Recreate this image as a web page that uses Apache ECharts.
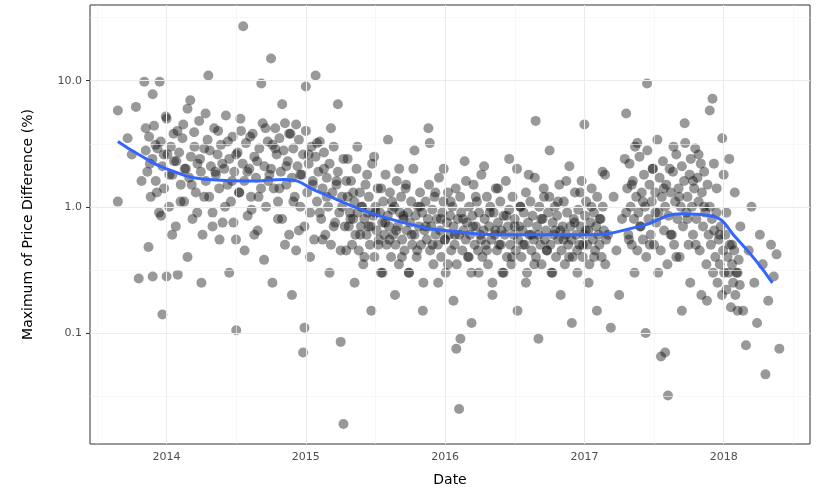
<!DOCTYPE html>
<html><head><meta charset="utf-8">
<script src="https://cdn.jsdelivr.net/npm/echarts@6/dist/echarts.min.js"></script>
<style>html,body{margin:0;padding:0;background:#fff}#c{width:828px;height:492px}</style>
</head><body><div id="c"></div>
<script>
const xTicks=[2014,2015,2016,2017,2018];
const yTicks=[0.1,1,10];
const points=[
[2013.65,5.8],[2013.65,1.1],[2013.72,3.5],[2013.75,2.6],[2013.78,6.2],[2013.8,0.27],[2013.82,1.6],[2013.84,9.8],[2013.85,4.2],[2013.87,0.48],[2013.88,2.2],[2013.9,0.28],[2013.9,7.8],[2013.92,3.1],[2013.93,1.3],[2013.95,9.8],[2013.96,0.85],[2013.97,0.14],[2013.98,2.6],[2014.0,0.28],[2014.0,5.0],[2014.02,1.8],[2014.04,0.6],[2014.05,3.8],[2014.07,2.3],[2014.08,0.29],[2014.1,1.1],[2014.12,4.5],[2014.13,2.0],[2014.15,0.4],[2014.17,7.0],[2014.18,1.5],[2014.2,3.0],[2014.22,0.9],[2014.24,2.4],[2014.25,0.25],[2014.27,1.2],[2014.28,5.5],[2014.3,11],[2014.31,2.8],[2014.33,0.7],[2014.35,1.9],[2014.37,4.0],[2014.38,0.55],[2014.4,2.2],[2014.42,1.0],[2014.44,3.3],[2014.45,0.3],[2014.47,1.6],[2014.48,0.75],[2014.5,0.105],[2014.5,2.6],[2014.52,1.3],[2014.53,5.0],[2014.55,27],[2014.56,0.45],[2014.58,1.9],[2014.6,3.6],[2014.61,0.95],[2014.63,0.6],[2014.65,2.3],[2014.66,1.2],[2014.68,9.5],[2014.7,0.38],[2014.71,4.2],[2014.73,1.6],[2014.75,15],[2014.76,0.25],[2014.78,2.9],[2014.8,0.8],[2014.81,1.4],[2014.83,6.5],[2014.85,0.5],[2014.86,2.1],[2014.88,3.8],[2014.9,0.2],[2014.91,1.1],[2014.93,4.5],[2014.95,0.65],[2014.96,1.8],[2014.98,0.07],[2014.99,0.11],[2015.0,9.0],[2015.02,2.6],[2015.03,0.4],[2015.05,1.5],[2015.07,11],[2015.08,3.2],[2015.1,0.9],[2015.12,0.55],[2015.13,2.0],[2015.15,1.2],[2015.17,0.3],[2015.18,4.2],[2015.2,0.7],[2015.22,1.6],[2015.23,6.5],[2015.25,0.085],[2015.26,1.0],[2015.27,0.019],[2015.29,0.45],[2015.3,2.4],[2015.32,0.8],[2015.34,1.3],[2015.35,0.25],[2015.37,3.0],[2015.39,0.6],[2015.4,1.0],[2015.42,0.4],[2015.44,1.8],[2015.45,0.7],[2015.47,0.15],[2015.49,2.5],[2015.5,0.9],[2015.52,0.5],[2015.54,1.4],[2015.55,0.3],[2015.57,0.75],[2015.59,3.4],[2015.6,0.55],[2015.62,1.1],[2015.64,0.2],[2015.65,0.65],[2015.67,2.0],[2015.69,0.4],[2015.7,0.85],[2015.72,1.5],[2015.74,0.3],[2015.76,0.6],[2015.78,2.8],[2015.8,0.45],[2015.82,1.0],[2015.84,0.15],[2015.86,0.7],[2015.88,4.2],[2015.89,3.2],[2015.91,0.5],[2015.93,1.3],[2015.95,0.25],[2015.97,0.8],[2015.99,2.0],[2016.0,0.55],[2016.02,0.35],[2016.04,1.1],[2016.06,0.18],[2016.07,0.6],[2016.08,0.075],[2016.1,0.025],[2016.11,0.09],[2016.13,0.8],[2016.15,1.6],[2016.17,0.4],[2016.19,0.12],[2016.2,0.7],[2016.22,1.2],[2016.24,0.3],[2016.26,0.55],[2016.28,2.1],[2016.3,0.45],[2016.32,0.9],[2016.34,0.2],[2016.36,0.65],[2016.38,1.4],[2016.4,0.5],[2016.42,0.3],[2016.44,0.85],[2016.46,2.4],[2016.48,0.4],[2016.5,0.7],[2016.52,0.15],[2016.54,1.0],[2016.56,0.5],[2016.58,0.25],[2016.6,1.8],[2016.62,0.6],[2016.64,0.35],[2016.65,4.8],[2016.67,0.09],[2016.69,0.8],[2016.71,1.2],[2016.73,0.45],[2016.75,2.8],[2016.77,0.3],[2016.79,0.65],[2016.81,1.1],[2016.83,0.2],[2016.85,0.55],[2016.87,1.6],[2016.89,0.4],[2016.91,0.12],[2016.93,0.75],[2016.95,0.3],[2016.97,1.3],[2016.99,0.5],[2017.0,4.5],[2017.01,0.65],[2017.03,0.25],[2017.05,1.0],[2017.07,0.4],[2017.09,0.15],[2017.11,0.8],[2017.13,1.9],[2017.15,0.35],[2017.17,0.6],[2017.19,0.11],[2017.21,1.2],[2017.23,0.45],[2017.25,0.2],[2017.27,0.8],[2017.29,2.4],[2017.3,5.5],[2017.32,0.55],[2017.34,1.5],[2017.36,0.3],[2017.38,3.2],[2017.4,0.7],[2017.42,1.1],[2017.44,0.1],[2017.45,9.5],[2017.47,0.5],[2017.49,2.0],[2017.51,0.9],[2017.53,0.3],[2017.55,0.065],[2017.57,1.4],[2017.58,0.07],[2017.6,0.032],[2017.62,0.6],[2017.64,3.0],[2017.66,0.4],[2017.68,1.2],[2017.7,0.15],[2017.72,4.6],[2017.74,0.8],[2017.76,0.25],[2017.78,1.6],[2017.8,0.5],[2017.82,2.6],[2017.84,0.2],[2017.86,1.0],[2017.88,0.18],[2017.9,5.8],[2017.92,7.2],[2017.93,2.2],[2017.95,1.4],[2017.97,0.6],[2017.99,3.5],[2018.0,1.8],[2018.02,0.9],[2018.04,2.4],[2018.06,0.5],[2018.08,1.3],[2018.1,0.3],[2018.12,0.7],[2018.14,0.15],[2018.16,0.08],[2018.18,0.45],[2018.2,1.0],[2018.22,0.25],[2018.24,0.12],[2018.26,0.6],[2018.28,0.35],[2018.3,0.047],[2018.32,0.18],[2018.34,0.5],[2018.36,0.28],[2018.38,0.42],[2018.4,0.075]
];
// dense batches: [startDate, step]
const batchA=[2013.85,0.012,[2.8,1.9,3.6,1.2,2.4,4.4,1.6,2.9,0.9,3.3,2.1,1.4,5.2,2.6,1.0,3.0,1.8,2.3,0.7,4.0,2.7,1.5,3.5,1.1,2.0,6.0,1.7,2.5,0.8,3.9,1.3,2.2,4.8,1.9,0.6,2.9,1.6,3.4,1.2,2.1,0.9,4.2,1.8,2.6,1.4,3.1,0.75,2.0,5.3,1.5,2.4,1.1,3.6,1.9,0.55,2.7,1.3,4.0,2.2,1.6,3.2,0.85,2.0,1.2,3.8,2.5,1.7,0.65,2.9,1.4,4.6,2.1,1.0,3.3,1.8]];
const batchB=[2014.75,0.01,[2.0,3.1,1.4,4.2,2.6,1.1,3.5,1.9,0.8,2.8,4.6,1.5,2.3,0.6,3.8,1.7,2.9,1.2,0.45,2.1,3.4,1.0,1.8,2.6,0.7,4.0,1.3,2.2,0.9,3.0,1.6,0.55,2.5,1.1,1.9,3.3,0.8,1.4,2.7,0.6,1.7,1.0,2.2,0.5,1.3,3.0,0.75,1.5,1.9,0.9,0.45,1.2,2.4,0.7,1.6]];
const batchC=[2015.3,0.008,[1.2,0.7,0.9,1.6,0.5,0.8,1.1,0.6,2.0,0.9,0.45,1.3,0.7,1.0,0.35,0.8,1.5,0.6,0.9,1.2,0.5,0.7,2.2,0.85,0.4,1.0,0.65,1.4,0.55,0.9,0.3,0.75,1.1,0.6,1.8,0.5,0.85,0.7,1.3,0.4,0.95,0.6,1.0,0.5,1.6,0.7,0.35,0.9,1.2,0.55,0.8,0.45,1.4,0.65,0.9,0.3,0.75,1.1,0.5,2.0,0.6,0.85,0.4,1.0,0.7,1.3,0.5,0.9,0.25,0.65,1.1,0.55,0.8,1.5,0.45,0.7,0.95,0.35,1.2,0.6,0.8,0.5,1.7,0.65,0.4,0.9,1.1,0.55,0.3,0.75,1.3,0.6,0.85,0.45,1.0,0.7,0.5,1.4,0.35,0.8,0.6,1.2,0.9,0.45,0.65,2.3,0.55,0.75,0.4,1.0,0.6,0.3,0.85,1.5,0.5,0.7,1.1,0.45,0.9,0.6,1.8,0.4,0.65,0.8,0.5,1.2,0.35,0.7,1.0,0.55,0.25,0.9,0.6,1.4,0.45,0.75,0.5,1.1,0.65,0.3,0.85,0.6,1.6,0.4,0.7,0.95,0.5,0.35,1.2,0.6,0.8,0.45,2.0,0.55,0.7,1.0,0.4,0.65,0.9,0.5,1.3,0.3,0.75,0.6,1.1,0.45,0.85,0.55,1.7,0.4,0.7,0.6,1.0,0.5,0.35,0.8,1.4,0.55,0.65,0.45,0.9,1.2,0.5,0.3,0.75,0.6,1.0,0.4,0.85,0.55,1.5,0.65,0.45,0.7,1.1,0.35,0.6,0.9,0.5,2.1,0.7,0.55,0.4,0.8,1.3,0.6,0.45,0.95,0.5,0.7,1.6,0.4,0.6,0.85,1.1,0.5,0.65,0.35,0.75,1.4,0.55,0.9,0.45,0.7,1.2,0.6,0.5,0.8,0.4,1.0,0.65,1.8,0.55]];
const batchD=[2017.3,0.008,[0.9,1.4,0.6,2.2,1.0,0.5,1.6,0.8,3.0,1.2,0.45,0.9,2.5,0.7,1.3,0.55,1.8,1.0,0.4,2.8,0.8,1.5,0.6,1.1,2.0,0.5,1.3,0.75,3.4,0.9,1.7,0.45,1.2,2.3,0.65,1.0,1.5,0.35,0.85,2.0,1.3,0.6,1.9,0.5,1.1,2.6,0.8,1.4,0.4,1.0,2.1,0.7,1.6,3.2,0.9,1.2,0.5,1.8,2.4,1.0,0.6,1.4,2.9,0.8,1.7,1.1,0.45,2.2,1.3,0.7,1.9,0.9,0.35,1.5,0.6,1.0,0.5,0.8,0.3,0.65,0.4,0.9,0.25,0.55,0.35,0.7,0.2,0.45,0.3,0.6,0.22,0.4,0.3,0.5,0.16,0.35,0.25,0.45,0.2,0.3,0.15,0.38,0.24]];
[batchA,batchB,batchC,batchD].forEach(b=>b[2].forEach((v,i)=>points.push([+(b[0]+b[1]*i).toFixed(3),v])));
const fitX=[2013.65,2013.8,2014,2014.3,2014.6,2014.85,2015.1,2015.4,2015.7,2016,2016.5,2017,2017.4,2017.7,2017.9,2018.1,2018.35];
const fitY=[3.3,2.6,2.0,1.65,1.6,1.65,1.3,0.95,0.75,0.65,0.6,0.6,0.7,0.88,0.85,0.55,0.25];
const bandLo=[2.6,2.2,1.8,1.5,1.45,1.5,1.2,0.88,0.7,0.61,0.56,0.56,0.65,0.82,0.78,0.48,0.2];
const bandHi=[4.2,3.1,2.2,1.8,1.75,1.8,1.4,1.02,0.8,0.7,0.64,0.64,0.75,0.94,0.92,0.63,0.31];
const L=v=>Math.log10(v);
const yMin=-1.88,yMax=1.6,xMin=2013.45,xMax=2018.62;
const majX=xTicks, minX=[2013.5,2014.5,2015.5,2016.5,2017.5,2018.5];
const majY=yTicks.map(L), minY=[-1.5,-0.5,0.5,1.5];
const gl=(arr,axis,c,w)=>arr.map(v=>({[axis]:v,lineStyle:{color:c,width:w,type:'solid'}}));
const ch=echarts.init(document.getElementById('c'));
ch.setOption({
animation:false,
grid:{left:90,right:18,top:5,bottom:45,show:true,borderColor:'#333',borderWidth:1,backgroundColor:'#fff'},
xAxis:{type:'value',min:xMin,max:xMax,name:'Date',nameLocation:'middle',nameGap:29,nameTextStyle:{fontSize:14,color:'#000',fontFamily:'DejaVu Sans'},
 splitLine:{show:false},axisLine:{show:false},axisTick:{customValues:xTicks,length:4,lineStyle:{color:'#333'}},
 axisLabel:{customValues:xTicks,color:'#4d4d4d',fontSize:11,fontFamily:'DejaVu Sans',formatter:v=>String(v)}},
yAxis:{type:'value',min:yMin,max:yMax,name:'Maximum of Price Difference (%)',nameLocation:'middle',nameGap:55,nameTextStyle:{fontSize:14,color:'#000',fontFamily:'DejaVu Sans'},
 splitLine:{show:false},axisLine:{show:false},axisTick:{customValues:majY,length:4,lineStyle:{color:'#333'}},
 axisLabel:{customValues:majY,color:'#4d4d4d',fontSize:11,fontFamily:'DejaVu Sans',formatter:v=>Math.pow(10,v).toFixed(1)}},
series:[
{type:'line',data:[],markLine:{silent:true,symbol:'none',label:{show:false},animation:false,
 data:[...gl(minX,'xAxis','#f4f4f4',0.6),...gl(minY,'yAxis','#f4f4f4',0.6),...gl(majX,'xAxis','#ebebeb',1),...gl(majY,'yAxis','#ebebeb',1)]}},
{type:'scatter',data:points.map(p=>[p[0],L(p[1])]),symbolSize:10,itemStyle:{color:'rgba(0,0,0,0.5)'},z:3},
{type:'line',data:fitX.map((x,i)=>[x,L(bandLo[i])]),stack:'b',symbol:'none',lineStyle:{opacity:0},smooth:true,z:4},
{type:'line',data:fitX.map((x,i)=>[x,L(bandHi[i])-L(bandLo[i])]),stack:'b',symbol:'none',lineStyle:{opacity:0},areaStyle:{color:'rgba(153,153,153,0.4)'},smooth:true,z:4},
{type:'line',data:fitX.map((x,i)=>[x,L(fitY[i])]),symbol:'none',smooth:true,lineStyle:{color:'#3366FF',width:3},z:5}
]});
</script></body></html>
